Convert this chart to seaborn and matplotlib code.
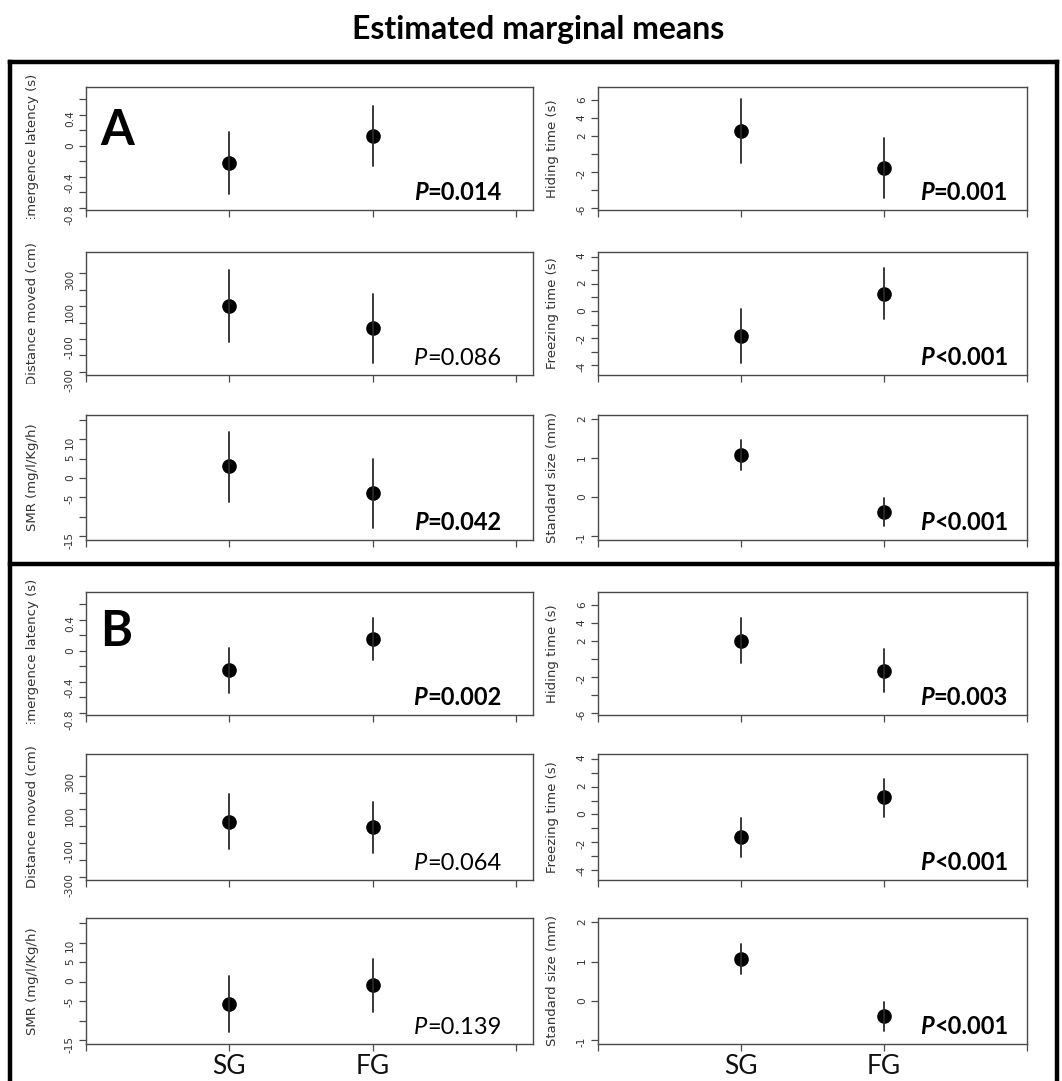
import matplotlib
matplotlib.use("Agg")
import numpy as np
import pandas as pd
import seaborn as sns
import matplotlib.pyplot as plt
from matplotlib.lines import Line2D
from matplotlib.ticker import FixedLocator, FixedFormatter
from matplotlib.transforms import Bbox, TransformedBbox

# ---------------------------------------------------------------- data
groups = ["SG", "FG"]
group_pos = [1, 2]

# panel order: row by row, left then right
measures = [
    "Emergence latency (s)", "Hiding time (s)",
    "Distance moved (cm)", "Freezing time (s)",
    "SMR (mg/l/Kg/h)", "Standard size (mm)",
]

# block A: estimated means and confidence limits (SG, FG)
a_mean = [[-0.223, 0.128], [2.59, -1.56], [100, -34], [-1.87, 1.28], [3.0, -3.86], [1.085, -0.373]]
a_low = [[-0.62, -0.257], [-0.93, -4.89], [-120, -248], [-3.85, -0.61], [-6.2, -12.9], [0.71, -0.73]]
a_high = [[0.171, 0.514], [6.1, 1.78], [320, 176], [0.12, 3.15], [12.0, 4.97], [1.47, -0.025]]
a_p = ["=0.014", "=0.001", "=0.086", "<0.001", "=0.042", "<0.001"]
a_sig = [True, True, False, True, True, True]

# block B
b_mean = [[-0.249, 0.15], [2.04, -1.3], [28, -6], [-1.63, 1.22], [-5.75, -0.94], [1.077, -0.39]]
b_low = [[-0.536, -0.12], [-0.44, -3.7], [-134, -158], [-3.07, -0.15], [-12.9, -7.8], [0.69, -0.76]]
b_high = [[0.034, 0.42], [4.56, 1.07], [190, 146], [-0.24, 2.54], [1.37, 5.9], [1.46, -0.02]]
b_p = ["=0.002", "=0.003", "=0.064", "<0.001", "=0.139", "<0.001"]
b_sig = [True, True, False, True, False, True]

# y-axis ticks and which ones carry a label
y_ticks = [
    [-0.8, -0.6, -0.4, -0.2, 0, 0.2, 0.4, 0.6],
    [-6, -4, -2, 0, 2, 4, 6],
    [-300, -200, -100, 0, 100, 200, 300],
    [-4, -3, -2, -1, 0, 1, 2, 3, 4],
    [-15, -10, -5, 0, 5, 10, 15],
    [-1, 0, 1, 2],
]
y_ticklabels = [
    ["-0.8", "", "-0.4", "", "0", "", "0.4", ""],
    ["-6", "", "-2", "", "2", "4", "6"],
    ["-300", "", "-100", "", "100", "", "300"],
    ["-4", "", "-2", "", "0", "", "2", "", "4"],
    ["-15", "", "-5", "0", "5", "10", ""],
    ["-1", "0", "1", "2"],
]
y_limits = [(-0.825, 0.755), (-6.2, 7.45), (-320, 430), (-4.72, 4.35), (-16.0, 16.3), (-1.09, 2.11)]

# ---------------------------------------------------------------- figure
W, H = 1062, 1081
sns.set_style("ticks")
plt.rcParams["font.family"] = ["DejaVu Sans"]
fig = plt.figure(figsize=(W / 100, H / 100), dpi=100)
fig.patch.set_facecolor("white")

col_x = [(86, 533), (598, 1027)]
col_xlim = [(0, 3.12), (0, 3.0)]
col_label_x = [-0.106, -0.092]
col_p_x = [0.93, 0.956]
rows_a = [(87, 210), (252, 375), (415, 540)]
rows_b = [(592, 715), (754, 880), (918, 1044)]

frame_col = "#4a4a4a"
calib = ["Lato", "DejaVu Sans"]


def add_axes_px(x0, y0, x1, y1):
    return fig.add_axes([x0 / W, 1 - y1 / H, (x1 - x0) / W, (y1 - y0) / H])


def draw_block(rows, means, lows, highs, pvals, sigs, letter, bottom_labels):
    for i in range(6):
        r, c = divmod(i, 2)
        y0, y1 = rows[r]
        x0, x1 = col_x[c]
        ax = add_axes_px(x0, y0, x1, y1)

        # low / mean / high per group: median gives the mean, full range gives the interval
        df = pd.DataFrame({
            "group": np.repeat(group_pos, 3),
            "value": [lows[i][0], means[i][0], highs[i][0],
                      lows[i][1], means[i][1], highs[i][1]],
        })
        sns.pointplot(data=df, x="group", y="value", native_scale=True,
                      estimator="median", errorbar=("pi", 100),
                      color="black", marker="o", markersize=8.5, linestyle="none",
                      err_kws={"linewidth": 1.3, "color": "#2a2a2a"}, ax=ax)

        ax.set_xlim(*col_xlim[c])
        ax.set_ylim(*y_limits[i])
        ax.xaxis.set_major_locator(FixedLocator([0, 1, 2, 3]))
        if bottom_labels and r == 2:
            ax.xaxis.set_major_formatter(FixedFormatter(["", groups[0], groups[1], ""]))
        else:
            ax.xaxis.set_major_formatter(FixedFormatter(["", "", "", ""]))
        ax.yaxis.set_major_locator(FixedLocator(y_ticks[i]))
        ax.yaxis.set_major_formatter(FixedFormatter(y_ticklabels[i]))

        for sp in ax.spines.values():
            sp.set_visible(True)
            sp.set_color(frame_col)
            sp.set_linewidth(1.0)
        ax.tick_params(axis="both", which="major", direction="out", length=5,
                       width=0.9, color=frame_col, left=True, bottom=True,
                       right=False, top=False)
        ax.tick_params(axis="y", labelsize=7.6, labelcolor="#333333",
                       labelrotation=90, pad=3)
        ax.tick_params(axis="x", pad=2)
        for t in ax.get_xticklabels():
            t.set_fontfamily(calib)
            t.set_fontsize(19)
            t.set_color("#111111")

        ax.set_xlabel("")
        ax.set_ylabel(measures[i], fontsize=9.5, color="#333333")
        ax.yaxis.set_label_coords(col_label_x[c], 0.5)
        lab = ax.yaxis.label
        lab.set_clip_on(True)
        lab.set_clip_box(TransformedBbox(
            Bbox.from_extents(0, 1 - (y1 + 9) / H, 1, 1 - (y0 - 30) / H),
            fig.transFigure))

        weight = "bold" if sigs[i] else "normal"
        t = ax.text(col_p_x[c], 0.08, pvals[i], transform=ax.transAxes,
                    ha="right", va="baseline", fontsize=17, fontweight=weight,
                    family=calib, color="black")
        ax.annotate("P", xy=(0, 0), xycoords=t, ha="right", va="bottom",
                    fontsize=17, fontweight=weight, fontstyle="italic",
                    family=calib, color="black")

        if i == 0:
            ax.text(0.031, 0.53 if letter == "A" else 0.56, letter,
                    transform=ax.transAxes, ha="left", va="baseline",
                    fontsize=35, fontweight="bold", family=calib, color="black")


draw_block(rows_a, a_mean, a_low, a_high, a_p, a_sig, "A", False)
draw_block(rows_b, b_mean, b_low, b_high, b_p, b_sig, "B", True)

# outer frames around the two blocks
def fig_line(xs, ys):
    fig.add_artist(Line2D([x / W for x in xs], [1 - y / H for y in ys],
                          color="black", linewidth=3.2, solid_capstyle="projecting"))

fig_line([10, 1057], [62, 62])
fig_line([10, 10], [62, 1081])
fig_line([1057, 1057], [62, 1081])
fig_line([10, 1057], [564, 564])

fig.text(538 / W, 1 - 30 / H, "Estimated marginal means", ha="center", va="center",
         fontsize=23, fontweight="bold", family=calib, color="black")

fig.savefig("out.png", dpi=100, facecolor="white")
